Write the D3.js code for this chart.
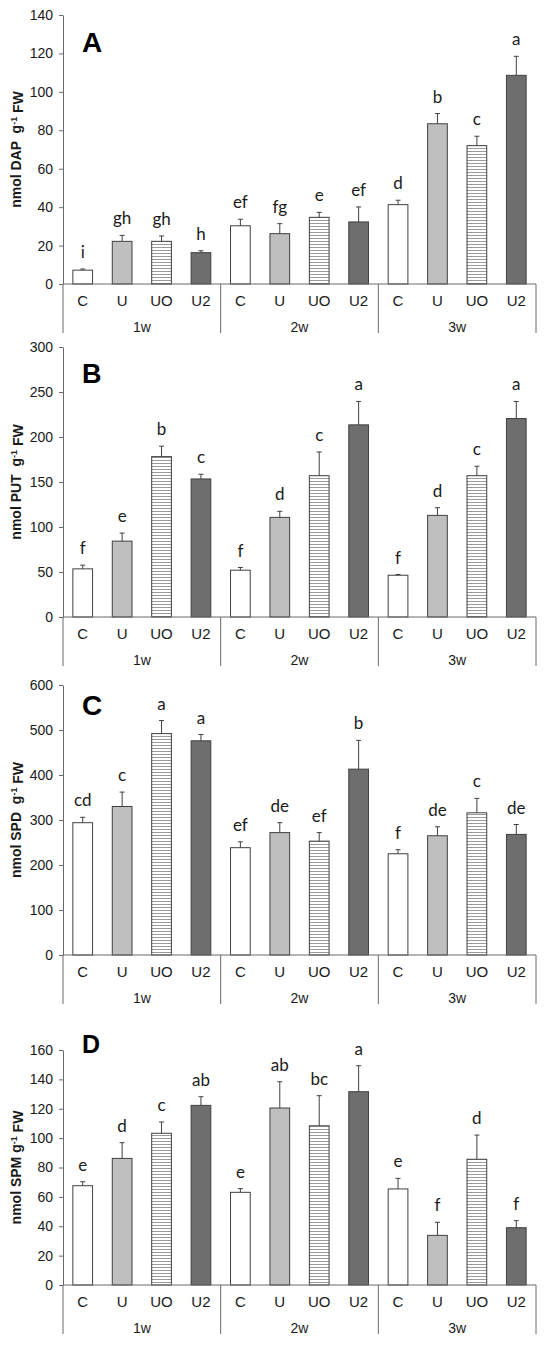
<!DOCTYPE html>
<html>
<head>
<meta charset="utf-8">
<script src="https://cdn.jsdelivr.net/npm/d3@7"></script>
<style>
  body { margin: 0; background: #fff; }
  svg { display: block; }
</style>
</head>
<body>
<svg id="chart" width="550" height="1348"></svg>
<script>

// categories
const weeks = ["1w", "2w", "3w"];
const treatments = ["C", "U", "UO", "U2"];

// A - DAP
const dapMean = [7.2, 22.2, 22.2, 16.3, 30.3, 26.2, 34.7, 32.3, 41.3, 83.4, 72.0, 108.6];
const dapErr = [0.6, 3.1, 2.8, 1.0, 3.4, 5.2, 2.6, 7.8, 2.3, 5.3, 4.9, 9.9];
const dapLetters = ["i", "gh", "gh", "h", "ef", "fg", "e", "ef", "d", "b", "c", "a"];

// B - PUT
const putMean = [53.5, 84.3, 178.2, 153.4, 52.0, 110.7, 157.0, 213.5, 46.4, 112.9, 157.0, 220.5];
const putErr = [4.1, 8.9, 11.6, 5.2, 3.0, 6.7, 26.4, 26.0, 0.8, 8.5, 10.5, 19.0];
const putLetters = ["f", "e", "b", "c", "f", "d", "c", "a", "f", "d", "c", "a"];

// C - SPD
const spdMean = [294, 330, 492, 476, 238.5, 272, 253, 413, 225, 265, 316, 268];
const spdErr = [12, 32, 29, 14, 13, 22, 19, 64, 9, 20, 32, 22];
const spdLetters = ["cd", "c", "a", "a", "ef", "de", "ef", "b", "f", "de", "c", "de"];

// D - SPM
const spmMean = [67.6, 86.2, 103.3, 122.3, 63.1, 120.5, 108.4, 131.6, 65.4, 33.8, 85.6, 39.0];
const spmErr = [2.7, 10.7, 7.7, 5.9, 2.5, 17.9, 20.5, 17.7, 7.2, 8.9, 16.5, 4.8];
const spmLetters = ["e", "d", "c", "ab", "e", "ab", "bc", "a", "e", "f", "d", "f"];

// panel layout
const panels = [
    {label: "A", compound: "DAP", gap: "  ", max: 140, step: 20, mean: dapMean, err: dapErr, letters: dapLetters,
     top: 15, zero: 284, labelDy: 37, labelSize: 28},
    {label: "B", compound: "PUT", gap: "  ", max: 300, step: 50, mean: putMean, err: putErr, letters: putLetters,
     top: 347, zero: 617, labelDy: 36, labelSize: 27},
    {label: "C", compound: "SPD", gap: "  ", max: 600, step: 100, mean: spdMean, err: spdErr, letters: spdLetters,
     top: 685, zero: 955, labelDy: 30, labelSize: 28},
    {label: "D", compound: "SPM", gap: " ", max: 160, step: 20, mean: spmMean, err: spmErr, letters: spmLetters,
     top: 1050, zero: 1285, labelDy: 3, labelSize: 25}
];

const left = 63;
const right = 536;

const fills = {C: "#ffffff", U: "#bfbfbf", UO: "url(#hatch)", U2: "#6e6e6e"};
const lineColor = "#404040";
const axisColor = "#6a6a6a";
const textColor = "#1a1a1a";

const svg = d3.select("#chart");

// horizontal stripes for UO
const pattern = svg
    .append("defs")
    .append("pattern")
        .attr("id", "hatch")
        .attr("patternUnits", "userSpaceOnUse")
        .attr("width", 6)
        .attr("height", 3);

pattern.append("rect")
    .attr("width", 6)
    .attr("height", 3)
    .attr("fill", "#ffffff");

pattern.append("line")
    .attr("x1", 0).attr("x2", 6)
    .attr("y1", 1.5).attr("y2", 1.5)
    .attr("stroke", "#9a9a9a")
    .attr("stroke-width", 1);

const keys = [];
weeks.forEach(w => treatments.forEach(t => keys.push(w + "|" + t)));

const x = d3.scaleBand()
    .domain(keys)
    .range([left, right])
    .paddingInner(0.5)
    .paddingOuter(0.25);

const xGroup = d3.scaleBand()
    .domain(weeks)
    .range([left, right]);

const drawPanel = (p) => {

    const y = d3.scaleLinear()
        .domain([0, p.max])
        .range([p.zero, p.top]);

    const g = svg.append("g").attr("class", "panel-" + p.label);

    const rows = keys.map((k, i) => ({
        key: k,
        week: k.split("|")[0],
        treat: k.split("|")[1],
        mean: p.mean[i],
        err: p.err[i],
        letter: p.letters[i]
    }));

    // y axis
    const yAxis = g.append("g")
        .attr("transform", `translate(${left},0)`)
        .call(d3.axisLeft(y)
            .tickValues(d3.range(0, p.max + p.step / 2, p.step))
            .tickSize(4)
            .tickPadding(6)
            .tickSizeOuter(0));

    yAxis.select(".domain").attr("stroke", axisColor);
    yAxis.selectAll(".tick line").attr("stroke", axisColor);
    yAxis.selectAll(".tick text")
        .attr("fill", textColor)
        .style("font-family", "Liberation Sans, Arial, sans-serif")
        .style("font-size", "14px");

    // bars
    g.append("g")
        .selectAll("rect")
        .data(rows)
        .join("rect")
            .attr("x", d => x(d.key))
            .attr("y", d => y(d.mean))
            .attr("width", x.bandwidth())
            .attr("height", d => y(0) - y(d.mean))
            .attr("fill", d => fills[d.treat])
            .attr("stroke", lineColor)
            .attr("stroke-width", 1);

    // error bars
    const eb = g.append("g")
        .attr("stroke", lineColor)
        .attr("stroke-width", 1)
        .selectAll("g")
        .data(rows)
        .join("g")
            .attr("transform", d => `translate(${x(d.key) + x.bandwidth() / 2},0)`);

    eb.append("line")
        .attr("y1", d => y(d.mean))
        .attr("y2", d => y(d.mean + d.err));

    eb.append("line")
        .attr("x1", -2.5)
        .attr("x2", 2.5)
        .attr("y1", d => y(d.mean + d.err))
        .attr("y2", d => y(d.mean + d.err));

    // significance letters
    g.append("g")
        .attr("text-anchor", "middle")
        .style("font-family", "Lato, Carlito, sans-serif")
        .style("font-size", "17px")
        .attr("fill", textColor)
        .selectAll("text")
        .data(rows)
        .join("text")
            .attr("x", d => x(d.key) + x.bandwidth() / 2)
            .attr("y", d => y(d.mean + d.err) - 11)
            .text(d => d.letter);

    // x axis line
    g.append("line")
        .attr("x1", left)
        .attr("x2", right)
        .attr("y1", y(0))
        .attr("y2", y(0))
        .attr("stroke", axisColor);

    // group separators
    g.append("g")
        .selectAll("line")
        .data(weeks.map(w => xGroup(w)).concat([right]))
        .join("line")
            .attr("x1", d => d)
            .attr("x2", d => d)
            .attr("y1", y(0))
            .attr("y2", y(0) + 49)
            .attr("stroke", axisColor);

    // category labels
    g.append("g")
        .attr("text-anchor", "middle")
        .style("font-family", "Liberation Sans, Arial, sans-serif")
        .style("font-size", "15px")
        .attr("fill", textColor)
        .selectAll("text")
        .data(rows)
        .join("text")
            .attr("x", d => x(d.key) + x.bandwidth() / 2)
            .attr("y", y(0) + 17)
            .attr("dy", "0.35em")
            .text(d => d.treat);

    // week labels
    g.append("g")
        .attr("text-anchor", "middle")
        .style("font-family", "Liberation Sans, Arial, sans-serif")
        .style("font-size", "14px")
        .attr("fill", textColor)
        .selectAll("text")
        .data(weeks)
        .join("text")
            .attr("x", d => xGroup(d) + xGroup.bandwidth() / 2)
            .attr("y", y(0) + 43)
            .attr("dy", "0.35em")
            .text(d => d);

    // y axis title
    const title = g.append("text")
        .attr("transform", `translate(21,${(p.top + p.zero) / 2}) rotate(-90)`)
        .attr("text-anchor", "middle")
        .style("font-family", "Liberation Sans, Arial, sans-serif")
        .style("font-size", "14px")
        .style("font-weight", "bold")
        .style("white-space", "pre")
        .attr("fill", textColor);

    title.append("tspan").text(`nmol ${p.compound}${p.gap}g`);
    title.append("tspan")
        .attr("dy", "-0.45em")
        .style("font-size", "9px")
        .text("-1");
    title.append("tspan")
        .attr("dy", "0.45em")
        .text(" FW");

    // panel letter
    g.append("text")
        .attr("x", left + 19)
        .attr("y", p.top + p.labelDy)
        .style("font-family", "Liberation Sans, Arial, sans-serif")
        .style("font-size", p.labelSize + "px")
        .style("font-weight", "bold")
        .attr("fill", "#000")
        .text(p.label);
}

panels.forEach(drawPanel);

</script>
</body>
</html>
